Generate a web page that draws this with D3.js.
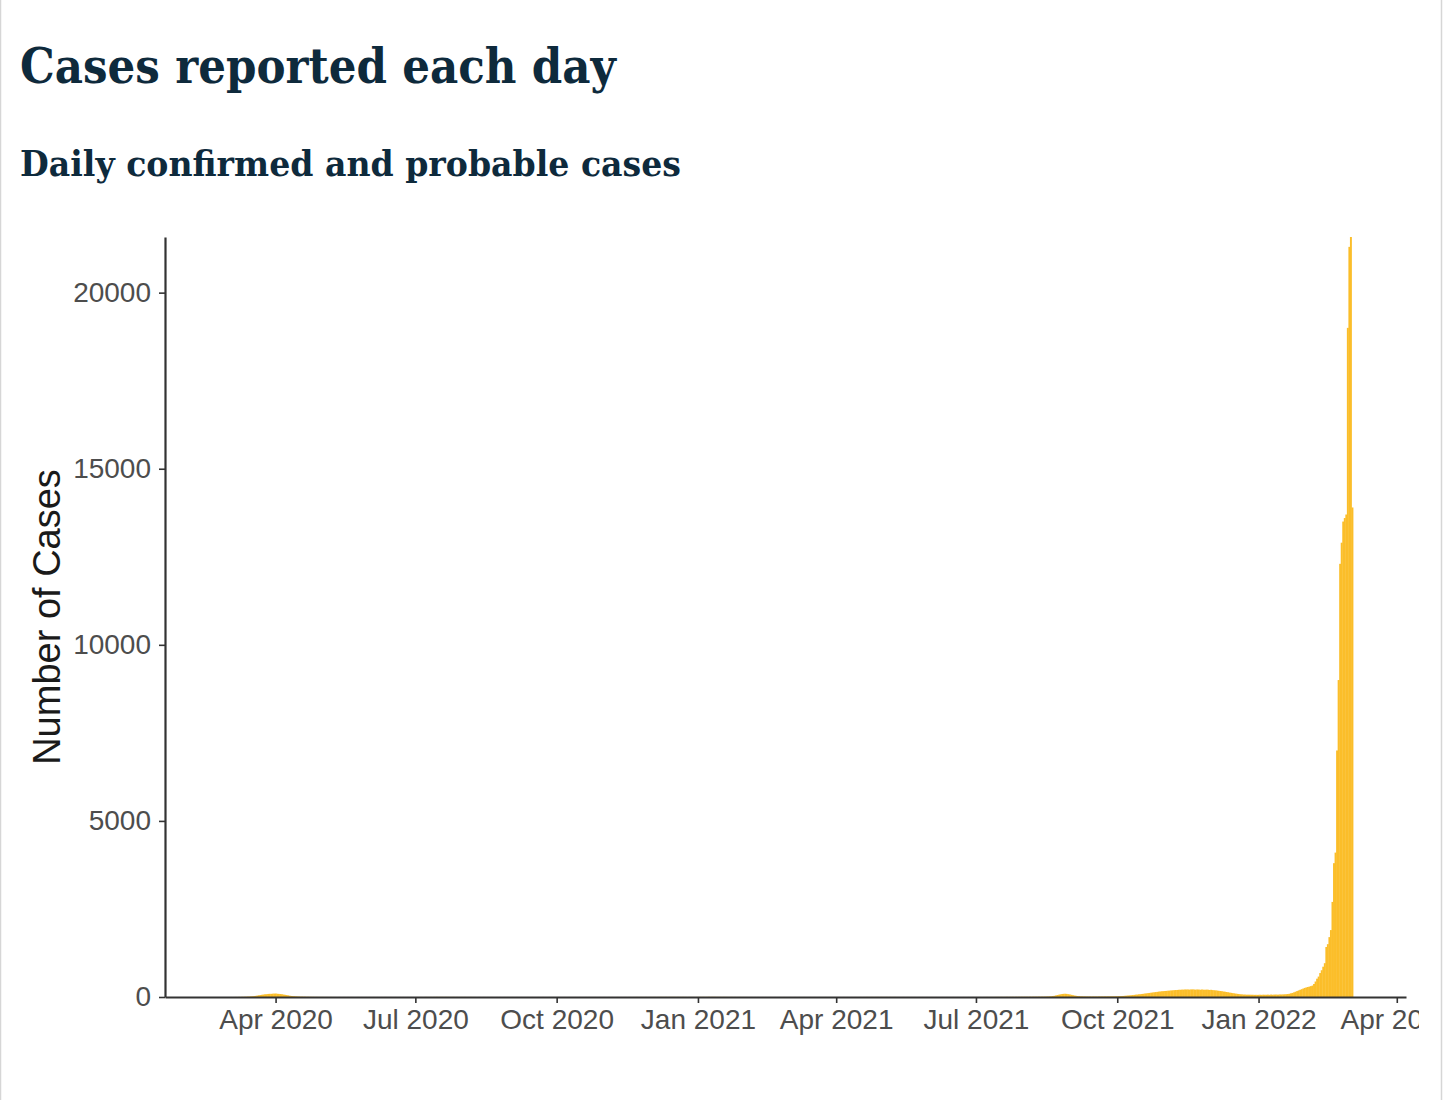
<!DOCTYPE html>
<html>
<head>
<meta charset="utf-8">
<script src="https://cdn.jsdelivr.net/npm/d3@7"></script>
<style>
  html, body { margin: 0; padding: 0; background: #fff; }
  #chart { width: 1444px; height: 1100px; }
</style>
</head>
<body>
<div id="chart"></div>
<script>
// daily confirmed + probable cases, one value per day from each start date
const start2020 = "2020-03-01";
const cases2020 = [
  // Mar
  0,0,1,0,1,2,1,3,2,4,5,6,8,10,12,16,20,26,32,40,48,55,62,70,76,80,86,90,88,94,96,
  // Apr
  98,92,88,84,78,70,62,55,46,38,30,26,22,18,15,12,10,9,8,7,6,5,5,4,4,3,3,3,2,2,
  // May
  2,2,1,2,1,1,2,1,1,1,0,1,1,0,1,1,0,1,0,1,1,0,0,1,1,0,1,0,0,1,0,
  // Jun
  1,0,0,1,0,1,0,0,1,0,1,1,0,0,1,0,0,1,0,0,1,0,1,0,0,1,0,1,0,0,
  // Jul
  0,1,0,1,1,0,1,2,1,1,2,1,2,2,3,2,2,3,2,2,3,2,2,1,2,2,1,2,1,1,2,
  // Aug
  1,2,1,1,1,2,1,1,1,0,1,1,0,1,1,0,1,0,1,1,0,0,1,0,1,0,0,1,0,1,0,
  // Sep
  0,1,0,0,1,0,0,1,0,0,0,1,0,0,1,0,0,0,1,0,0,1,0,0,0,1,0,0,1,0,
  // Oct
  0,1,0,0,0,1,0,0,1,0,0,0,1,0,0,1,0,0,0,1,0,1,0,0,0,1,0,0,1,0,0,
  // Nov
  1,0,0,1,0,1,0,0,1,1,0,1,0,1,1,0,1,1,0,1,1,2,1,1,2,1,1,2,1,1,
  // Dec
  2,1,2,2,1,2,2,3,2,2,3,2,2,3,2,3,2,2,3,2,2,3,2,2,1,2,2,1,2,1,2
];

const start2021 = "2021-01-01";
const cases2021 = [
  // Jan
  2,3,2,3,3,2,3,4,3,3,4,3,3,2,3,2,2,3,2,2,1,2,2,1,2,1,1,2,1,1,1,
  // Feb
  1,1,0,1,1,0,1,0,1,0,0,1,0,1,0,0,1,0,0,1,0,0,1,0,0,1,0,0,
  // Mar
  0,1,0,0,1,0,0,1,0,0,1,0,0,0,1,0,0,1,0,0,1,0,0,0,1,0,0,1,0,0,1,
  // Apr
  0,0,1,0,0,1,0,1,0,0,1,0,1,1,0,1,1,0,1,1,2,1,1,2,1,1,2,2,1,2,
  // May
  2,1,2,2,1,2,1,1,2,1,1,1,0,1,1,0,1,1,0,1,0,1,0,0,1,0,1,0,0,1,0,
  // Jun
  0,1,0,0,1,0,0,0,1,0,0,1,0,0,0,1,0,0,1,0,0,0,1,0,0,1,0,0,1,0,
  // Jul
  1,0,1,1,0,1,1,2,1,1,2,1,2,2,3,2,3,3,2,3,4,3,3,4,4,3,5,4,5,5,6,
  // Aug
  5,6,6,5,7,6,7,8,7,8,9,8,10,9,11,12,14,16,20,26,34,44,56,66,76,84,90,92,88,80,72,
  // Sep
  62,52,42,34,28,24,20,18,16,15,14,13,14,12,13,14,12,13,14,15,14,15,16,15,17,16,18,17,18,19,
  // Oct
  20,22,24,26,30,34,38,42,46,50,55,60,66,70,76,80,86,92,98,104,110,116,122,128,134,140,146,152,158,162,166,
  // Nov
  170,174,178,182,186,190,194,198,200,204,206,208,210,212,214,212,210,214,216,212,208,214,210,206,212,208,204,210,206,200,
  // Dec
  204,196,192,188,182,176,170,164,156,150,142,134,126,118,110,104,96,90,84,78,74,70,68,66,64,66,62,64,60,62,60
];

const start2022 = "2022-01-01";
const cases2022 = [
  // Jan
  62,64,60,66,62,64,66,62,68,64,66,70,66,68,72,70,74,76,80,84,92,104,116,132,150,168,186,204,222,240,258,
  // Feb
  272,284,296,308,324,370,440,520,580,680,760,860,960,1420,1500,1700,1900,2700,3800,4100,7000,9000,12300,12900,13500,13600,13700,19000,
  // Mar
  21300,21580,13900
];

const yTicks = [0, 5000, 10000, 15000, 20000];
const xTicks = ["2020-04-01", "2020-07-01", "2020-10-01", "2021-01-01", "2021-04-01",
                "2021-07-01", "2021-10-01", "2022-01-01", "2022-04-01"];
const xTickLabels = ["Apr 2020", "Jul 2020", "Oct 2020", "Jan 2021", "Apr 2021",
                     "Jul 2021", "Oct 2021", "Jan 2022", "Apr 2022"];
const xLimits = ["2020-01-20", "2022-04-07"];

const parse = d3.utcParse("%Y-%m-%d");

function toDays(start, values) {
  const s = parse(start);
  return values.map((v, i) => ({ date: d3.utcDay.offset(s, i), value: v }));
}

const data = [].concat(
  toDays(start2020, cases2020),
  toDays(start2021, cases2021),
  toDays(start2022, cases2022)
);

// layout
const W = 1444, H = 1100;
const plot = { left: 165, right: 1406, top: 237, bottom: 997 };

const svg = d3.select("#chart").append("svg")
  .attr("width", W)
  .attr("height", H);

// thin page border on both sides
svg.append("line").attr("x1", 0.5).attr("x2", 0.5).attr("y1", 0).attr("y2", H)
  .attr("stroke", "#d6d6d6").attr("stroke-width", 1.5);
svg.append("line").attr("x1", 1441.5).attr("x2", 1441.5).attr("y1", 0).attr("y2", H)
  .attr("stroke", "#d6d6d6").attr("stroke-width", 1.5);

// titles (serif, fitted to the width seen in the reference, a bit taller)
function fitWidth(text, width) {
  const len = text.node().getComputedTextLength();
  const fs = parseFloat(text.style("font-size"));
  text.style("font-size", (fs * width / len) + "px");
}

const title = svg.append("text")
  .attr("transform", "translate(20,83) scale(1,1.12)")
  .style("font-family", "Georgia, 'DejaVu Serif', serif")
  .style("font-weight", "bold")
  .style("font-size", "46px")
  .style("fill", "#0e2a3c")
  .text("Cases reported each day");
fitWidth(title, 596);

const subtitle = svg.append("text")
  .attr("transform", "translate(20,176) scale(1,1.08)")
  .style("font-family", "Georgia, 'DejaVu Serif', serif")
  .style("font-weight", "bold")
  .style("font-size", "32px")
  .style("fill", "#0e2a3c")
  .text("Daily confirmed and probable cases");
fitWidth(subtitle, 661);

// chart area clipped on the right like the screenshot
const chart = svg.append("svg")
  .attr("width", 1419)
  .attr("height", H);

const x = d3.scaleUtc()
  .domain(xLimits.map(parse))
  .range([plot.left, plot.right]);

const y = d3.scaleLinear()
  .domain([0, d3.max(data, d => d.value)])
  .range([plot.bottom, plot.top]);

// bars, centred on each day
chart.append("g")
  .selectAll("rect")
  .data(data.filter(d => d.value > 0))
  .join("rect")
  .attr("x", d => x(d3.utcHour.offset(d.date, -12)))
  .attr("width", d => x(d3.utcHour.offset(d.date, 12)) - x(d3.utcHour.offset(d.date, -12)) + 0.4)
  .attr("y", d => y(d.value))
  .attr("height", d => y(0) - y(d.value))
  .attr("fill", "#fbbe2a");

const tickFont = "'Liberation Sans', Arial, Helvetica, sans-serif";

const yAxis = chart.append("g")
  .attr("transform", `translate(${plot.left},0)`)
  .call(d3.axisLeft(y)
    .tickValues(yTicks)
    .tickFormat(d3.format("d"))
    .tickSize(6)
    .tickSizeOuter(0)
    .tickPadding(8));

const xAxis = chart.append("g")
  .attr("transform", `translate(0,${plot.bottom})`)
  .call(d3.axisBottom(x)
    .tickValues(xTicks.map(parse))
    .tickFormat((d, i) => xTickLabels[i])
    .tickSize(6)
    .tickSizeOuter(0)
    .tickPadding(6));

[yAxis, xAxis].forEach(g => {
  g.select(".domain").attr("stroke", "#333").attr("stroke-width", 2.2);
  g.selectAll(".tick line").attr("stroke", "#333").attr("stroke-width", 1.6);
  g.selectAll(".tick text")
    .style("font-family", tickFont)
    .style("font-size", "28px")
    .attr("fill", "#4d4d4d");
});

// y axis title
chart.append("text")
  .attr("transform", `translate(60,${(plot.top + plot.bottom) / 2}) rotate(-90)`)
  .attr("text-anchor", "middle")
  .style("font-family", tickFont)
  .style("font-size", "38px")
  .style("fill", "#1a1a1a")
  .text("Number of Cases");
</script>
</body>
</html>
